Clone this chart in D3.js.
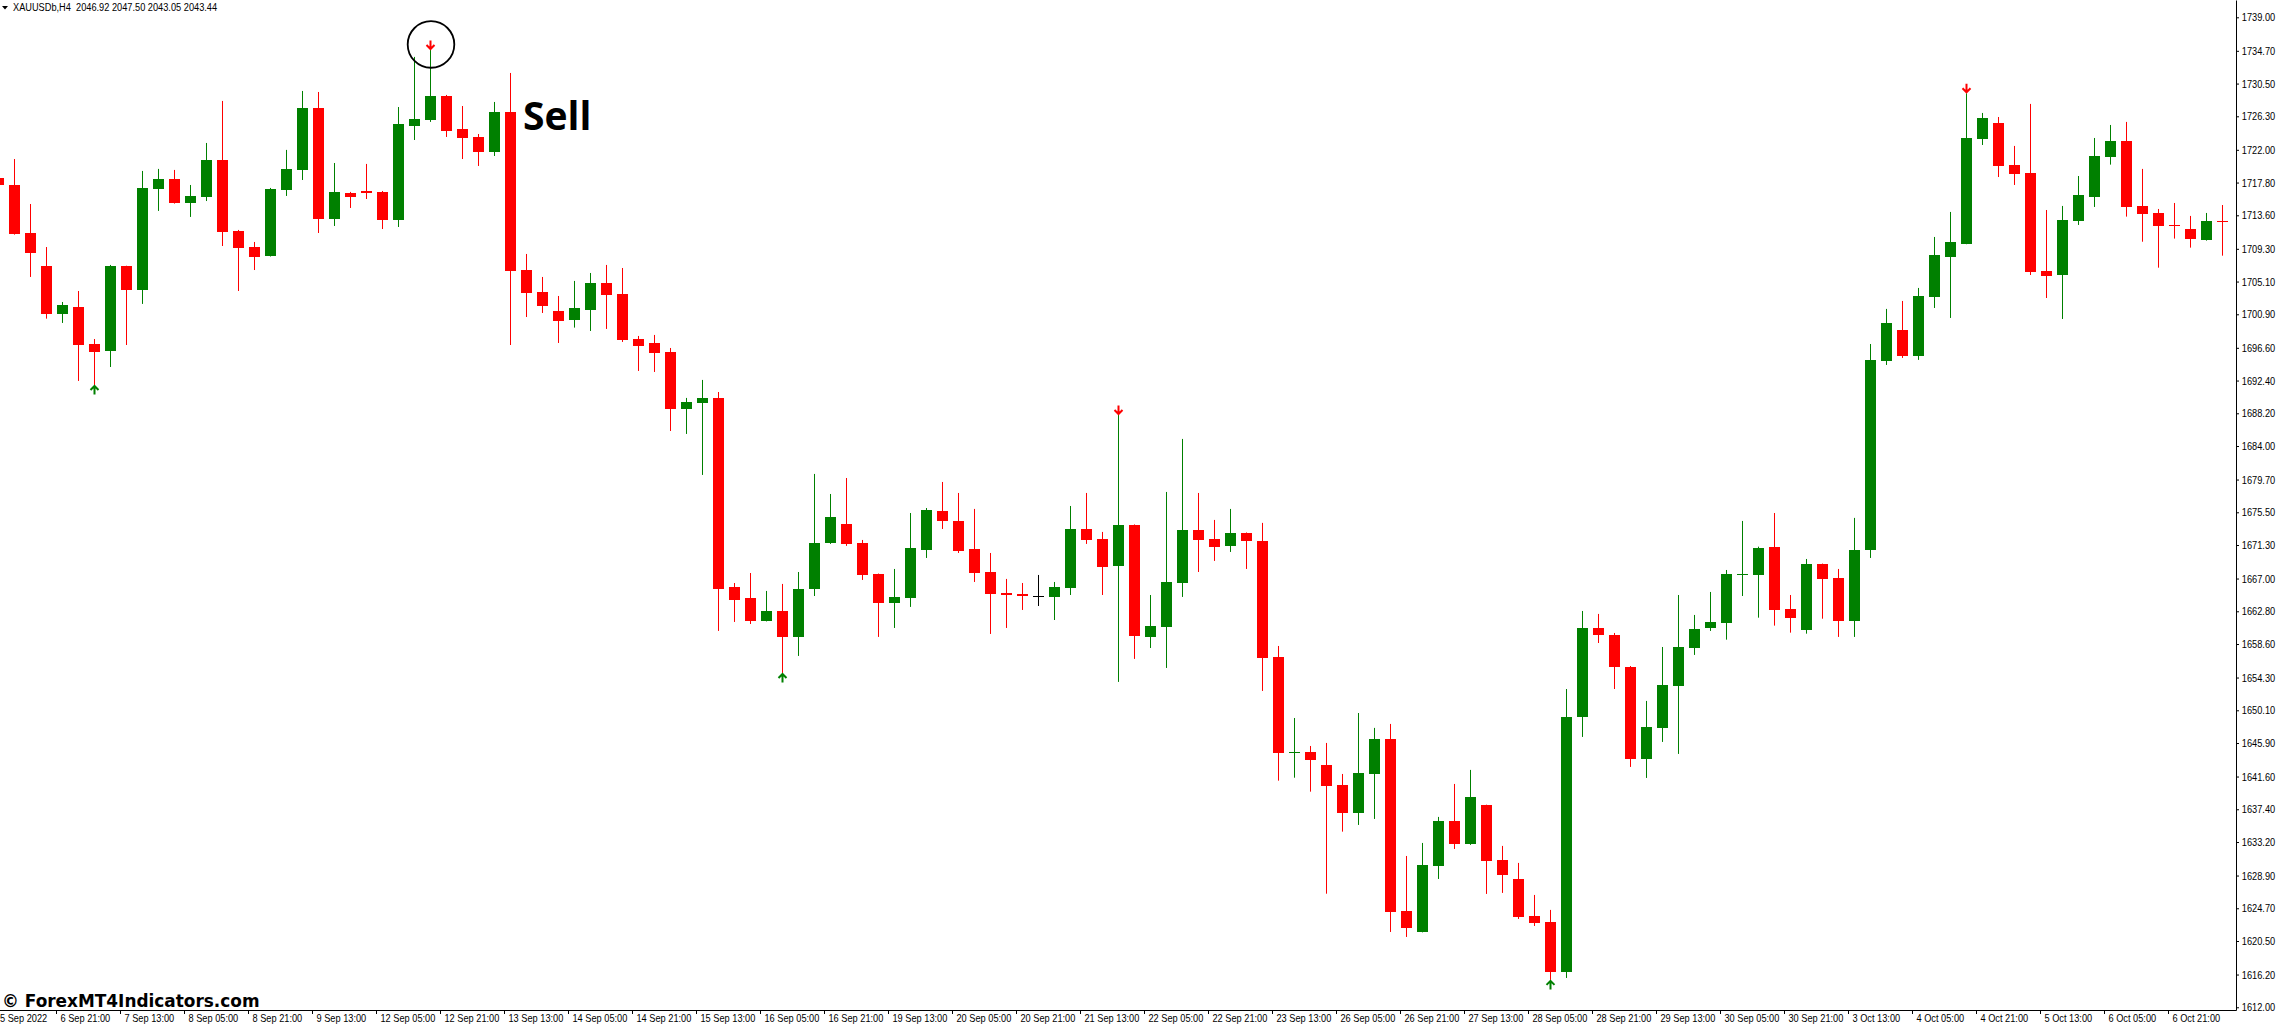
<!DOCTYPE html>
<html lang="en">
<head>
<meta charset="utf-8">
<title>XAUUSDb H4</title>
<script src="https://d3js.org/d3.v7.min.js"></script>
<style>
    html, body { margin: 0; padding: 0; background: #ffffff; overflow: hidden; }
    svg { display: block; }
</style>
</head>
<body>
<div id="chart"></div>

<!-- Data -->
<script>
    // H4 bars, bar 0 is the half-hidden candle at the left edge
    var open = [
        1718.42, 1717.49, 1711.33, 1707.10, 1700.94, 1701.84, 1697.09, 1696.20, 1707.10, 1704.03,
        1716.98, 1718.26, 1715.18, 1715.96, 1720.70, 1711.59, 1709.53, 1708.38, 1716.85, 1719.42,
        1727.37, 1713.13, 1716.47, 1716.72, 1716.60, 1713.01, 1725.06, 1725.83, 1728.91, 1724.67,
        1723.65, 1721.76, 1726.85, 1706.58, 1703.76, 1701.33, 1700.21, 1701.50, 1704.92, 1703.50,
        1697.73, 1697.22, 1696.07, 1688.75, 1689.53, 1690.17, 1665.92, 1664.51, 1661.56, 1662.84,
        1659.51, 1665.67, 1671.57, 1674.00, 1671.57, 1667.59, 1663.87, 1664.51, 1670.66, 1675.67,
        1674.39, 1670.79, 1667.84, 1665.16, 1665.02, 1664.72, 1664.64, 1665.80, 1673.36, 1672.08,
        1668.62, 1673.87, 1659.51, 1660.79, 1666.43, 1673.23, 1672.08, 1671.19, 1672.85, 1671.82,
        1656.94, 1644.67, 1644.76, 1643.09, 1640.52, 1636.93, 1641.93, 1646.42, 1624.36, 1621.66,
        1630.13, 1635.91, 1632.96, 1637.95, 1630.90, 1628.46, 1623.72, 1622.94, 1616.53, 1649.24,
        1660.66, 1659.77, 1655.66, 1643.85, 1647.84, 1653.22, 1658.09, 1660.66, 1661.34, 1667.46,
        1667.50, 1671.05, 1663.10, 1660.45, 1668.87, 1667.07, 1661.56, 1670.66, 1694.91, 1698.89,
        1695.56, 1703.12, 1708.26, 1709.93, 1723.39, 1725.45, 1720.06, 1719.03, 1706.46, 1705.94,
        1712.87, 1715.96, 1721.12, 1723.14, 1714.80, 1713.90, 1712.36, 1711.84, 1710.48, 1712.91
    ];
    var high = [
        1718.64, 1720.82, 1715.05, 1709.53, 1702.48, 1703.89, 1697.73, 1707.23, 1707.13, 1719.29,
        1719.55, 1719.42, 1717.49, 1722.88, 1728.27, 1711.72, 1710.18, 1717.11, 1721.99, 1729.55,
        1729.42, 1720.31, 1716.60, 1720.19, 1716.72, 1727.49, 1733.92, 1734.81, 1729.04, 1727.62,
        1724.03, 1728.14, 1731.86, 1708.64, 1705.69, 1703.25, 1705.18, 1706.20, 1707.23, 1706.84,
        1698.12, 1698.25, 1696.58, 1690.17, 1692.48, 1690.93, 1666.43, 1667.71, 1665.41, 1666.31,
        1667.84, 1680.42, 1677.85, 1679.90, 1671.95, 1667.64, 1668.23, 1675.41, 1676.05, 1679.39,
        1677.98, 1675.93, 1670.28, 1666.95, 1666.43, 1667.46, 1666.56, 1676.31, 1677.98, 1672.98,
        1687.98, 1673.94, 1664.89, 1678.11, 1684.91, 1677.98, 1674.52, 1675.93, 1672.91, 1674.14,
        1658.35, 1649.11, 1645.52, 1645.91, 1641.93, 1649.75, 1647.84, 1648.35, 1631.41, 1633.08,
        1636.42, 1640.65, 1642.45, 1637.99, 1632.70, 1630.52, 1626.41, 1624.49, 1652.83, 1662.84,
        1662.46, 1660.02, 1655.78, 1651.30, 1658.22, 1664.89, 1662.33, 1665.28, 1668.10, 1674.39,
        1671.09, 1675.41, 1664.89, 1669.51, 1668.92, 1668.23, 1674.78, 1697.09, 1701.59, 1702.61,
        1704.28, 1710.82, 1714.03, 1729.25, 1726.73, 1726.21, 1722.50, 1727.89, 1714.28, 1714.80,
        1718.64, 1723.52, 1725.19, 1725.58, 1719.55, 1714.41, 1715.18, 1713.52, 1713.90, 1714.92
    ];
    var low = [
        1717.36, 1711.12, 1705.69, 1700.34, 1699.79, 1692.35, 1691.83, 1694.14, 1696.96, 1702.23,
        1714.16, 1715.10, 1713.39, 1715.43, 1709.66, 1703.89, 1706.58, 1708.31, 1716.08, 1718.13,
        1711.33, 1712.23, 1714.54, 1715.69, 1711.84, 1712.10, 1723.26, 1725.58, 1723.65, 1720.82,
        1719.93, 1721.21, 1696.96, 1700.55, 1701.07, 1697.22, 1699.19, 1698.76, 1699.02, 1697.35,
        1693.63, 1693.50, 1685.93, 1685.55, 1680.29, 1660.28, 1661.43, 1661.17, 1661.50, 1654.89,
        1657.07, 1664.76, 1671.44, 1671.19, 1666.82, 1659.51, 1660.66, 1663.36, 1669.64, 1673.36,
        1670.28, 1666.56, 1659.89, 1660.66, 1662.97, 1663.48, 1661.68, 1664.89, 1671.44, 1664.89,
        1653.74, 1656.69, 1658.09, 1655.53, 1664.64, 1667.84, 1669.26, 1670.41, 1668.23, 1652.58,
        1641.07, 1641.45, 1639.66, 1626.57, 1634.53, 1635.39, 1636.16, 1621.66, 1621.02, 1621.61,
        1628.46, 1632.31, 1632.83, 1626.54, 1626.67, 1623.33, 1622.43, 1615.51, 1615.76, 1646.68,
        1658.73, 1652.83, 1642.83, 1641.42, 1646.04, 1644.50, 1657.20, 1660.28, 1659.16, 1664.76,
        1661.98, 1660.96, 1660.06, 1659.93, 1661.85, 1659.51, 1659.51, 1669.64, 1694.40, 1695.30,
        1695.05, 1701.71, 1700.43, 1709.89, 1722.62, 1718.51, 1717.49, 1705.94, 1702.99, 1700.30,
        1712.36, 1714.67, 1720.10, 1713.43, 1710.21, 1706.88, 1710.61, 1709.45, 1710.35, 1708.42
    ];
    var close = [
        1717.49, 1711.24, 1708.81, 1700.94, 1702.10, 1696.96, 1696.07, 1707.10, 1704.03, 1717.11,
        1718.26, 1715.18, 1716.08, 1720.70, 1711.46, 1709.41, 1708.26, 1716.98, 1719.55, 1727.37,
        1713.13, 1716.60, 1715.99, 1716.51, 1713.01, 1725.32, 1725.96, 1728.91, 1724.45, 1723.56,
        1721.76, 1726.85, 1706.49, 1703.67, 1702.01, 1700.08, 1701.71, 1704.92, 1703.42, 1697.60,
        1696.88, 1695.98, 1688.75, 1689.66, 1690.17, 1665.67, 1664.25, 1661.56, 1662.84, 1659.51,
        1665.67, 1671.57, 1674.90, 1671.44, 1667.46, 1663.87, 1664.64, 1670.92, 1675.80, 1674.39,
        1670.54, 1667.71, 1665.02, 1664.89, 1664.76, 1664.72, 1665.92, 1673.36, 1671.95, 1668.49,
        1673.87, 1659.64, 1660.92, 1666.56, 1673.23, 1671.95, 1671.05, 1672.85, 1671.82, 1656.82,
        1644.67, 1644.76, 1643.72, 1640.39, 1636.93, 1642.06, 1646.42, 1624.23, 1622.18, 1630.26,
        1635.91, 1632.96, 1638.98, 1630.77, 1628.97, 1623.59, 1622.81, 1616.53, 1649.24, 1660.66,
        1659.77, 1655.66, 1643.85, 1647.96, 1653.35, 1658.22, 1660.53, 1661.43, 1667.59, 1667.55,
        1670.92, 1663.01, 1661.98, 1668.87, 1666.99, 1661.56, 1670.66, 1695.05, 1699.79, 1695.56,
        1703.25, 1708.51, 1710.18, 1723.52, 1726.09, 1719.93, 1718.90, 1706.33, 1705.82, 1713.01,
        1716.21, 1721.21, 1723.14, 1714.71, 1713.81, 1712.27, 1712.23, 1710.61, 1712.87, 1712.78
    ];

    // indicator arrows (bar numbers)
    var sellSignals = [27, 70, 123];
    var buySignals = [6, 49, 97];

    // price scale labels
    var priceTicks = [
        1739.00, 1734.70, 1730.50, 1726.30, 1722.00, 1717.80, 1713.60, 1709.30, 1705.10, 1700.90,
        1696.60, 1692.40, 1688.20, 1684.00, 1679.70, 1675.50, 1671.30, 1667.00, 1662.80, 1658.60,
        1654.30, 1650.10, 1645.90, 1641.60, 1637.40, 1633.20, 1628.90, 1624.70, 1620.50, 1616.20,
        1612.00
    ];

    // time scale labels, one every 4 bars starting at bar 0
    var timeLabels = [
        "5 Sep 2022", "6 Sep 21:00", "7 Sep 13:00", "8 Sep 05:00", "8 Sep 21:00", "9 Sep 13:00",
        "12 Sep 05:00", "12 Sep 21:00", "13 Sep 13:00", "14 Sep 05:00", "14 Sep 21:00", "15 Sep 13:00",
        "16 Sep 05:00", "16 Sep 21:00", "19 Sep 13:00", "20 Sep 05:00", "20 Sep 21:00", "21 Sep 13:00",
        "22 Sep 05:00", "22 Sep 21:00", "23 Sep 13:00", "26 Sep 05:00", "26 Sep 21:00", "27 Sep 13:00",
        "28 Sep 05:00", "28 Sep 21:00", "29 Sep 13:00", "30 Sep 05:00", "30 Sep 21:00", "3 Oct 13:00",
        "4 Oct 05:00", "4 Oct 21:00", "5 Oct 13:00", "6 Oct 05:00", "6 Oct 21:00"
    ];
    var labelStep = 4;

    var headerText = "XAUUSDb,H4  2046.92 2047.50 2043.05 2043.44";
    var watermark = "\u00A9 ForexMT4Indicators.com";
    var callout = "Sell";
    var calloutPrice = 1724.54;
</script>

<!-- Chart -->
<script>
    var width = 2277, height = 1024;
    var plotRight = 2236, plotBottom = 1010;
    var bodyWidth = 11;
    var squeeze = 0.84;   // terminal font is narrower than Liberation Sans

    var bull = "#008000", bear = "#ff0000", doji = "#000000";

    var svg = d3.select("#chart")
        .append("svg")
        .attr("width", width)
        .attr("height", height)
        .style("font-family", "'Liberation Sans', Arial, sans-serif");

    // bar number -> pixel, 16px per bar
    var x = d3.scaleLinear()
        .domain([0, open.length - 1])
        .range([-1.5, 2222.5]);

    var y = d3.scaleLinear()
        .domain([1611.65, 1741.22])
        .range([plotBottom, 0]);

    var bars = open.map(function (o, i) {
        return { i: i, o: o, h: high[i], l: low[i], c: close[i] };
    });

    function colour(d) {
        if (d.c > d.o) return bull;
        if (d.c < d.o) return bear;
        return doji;
    }

    var plot = svg.append("g").attr("class", "candles");

    // wicks
    plot.selectAll("line.wick")
        .data(bars)
        .enter()
        .append("line")
        .attr("class", "wick")
        .attr("x1", function (d) { return x(d.i); })
        .attr("x2", function (d) { return x(d.i); })
        .attr("y1", function (d) { return y(d.h); })
        .attr("y2", function (d) { return y(d.l); })
        .attr("stroke", colour)
        .attr("stroke-width", 1);

    // bodies
    plot.selectAll("rect.body")
        .data(bars)
        .enter()
        .append("rect")
        .attr("class", "body")
        .attr("x", function (d) { return x(d.i) - bodyWidth / 2; })
        .attr("y", function (d) { return y(Math.max(d.o, d.c)); })
        .attr("width", bodyWidth)
        .attr("height", function (d) {
            return Math.max(1, y(Math.min(d.o, d.c)) - y(Math.max(d.o, d.c)));
        })
        .attr("fill", colour)
        .attr("shape-rendering", "crispEdges");

    // signal arrows, tip sits on the high (sell) or low (buy)
    var arrowPath = "M0,-9V-0.5M-4,-4.5L0,-0.5L4,-4.5";

    svg.selectAll("path.sell")
        .data(sellSignals)
        .enter()
        .append("path")
        .attr("class", "sell")
        .attr("d", arrowPath)
        .attr("transform", function (i) { return "translate(" + x(i) + "," + (y(high[i]) - 0.5) + ")"; })
        .attr("fill", "none")
        .attr("stroke", bear)
        .attr("stroke-width", 2);

    svg.selectAll("path.buy")
        .data(buySignals)
        .enter()
        .append("path")
        .attr("class", "buy")
        .attr("d", arrowPath)
        .attr("transform", function (i) { return "translate(" + x(i) + "," + (y(low[i]) + 0.5) + ") rotate(180)"; })
        .attr("fill", "none")
        .attr("stroke", bull)
        .attr("stroke-width", 2);

    // circled first sell signal + label
    var first = sellSignals[0];
    svg.append("circle")
        .attr("cx", x(first) + 0.5)
        .attr("cy", y(high[first]) - 5.5)
        .attr("r", 23.3)
        .attr("fill", "none")
        .attr("stroke", "#000")
        .attr("stroke-width", 1.8);

    svg.append("text")
        .attr("x", x(first + 6) - 3.5)
        .attr("y", y(calloutPrice))
        .style("font-family", "'Open Sans', 'Liberation Sans', sans-serif")
        .style("font-weight", 700)
        .style("font-size", "39px")
        .attr("fill", "#000")
        .text(callout);

    // price axis on the right
    var yAxis = d3.axisRight(y)
        .tickValues(priceTicks)
        .tickFormat(d3.format(".2f"))
        .tickSize(3)
        .tickSizeOuter(0);

    var gy = svg.append("g")
        .attr("transform", "translate(" + plotRight + ",0)")
        .call(yAxis);
    gy.select(".domain").attr("stroke", "#000");
    gy.selectAll(".tick line").attr("stroke", "#000");
    gy.selectAll(".tick text")
        .attr("x", 5.8 / squeeze)
        .attr("transform", "scale(" + squeeze + ",1)")
        .attr("fill", "#000")
        .style("font-family", "'Liberation Sans', Arial, sans-serif")
        .style("font-size", "11px");

    // time axis along the bottom, tick sits at the bar's left edge
    var tickBars = timeLabels.map(function (t, j) { return j * labelStep; });
    var xAxis = d3.axisBottom(x)
        .tickValues(tickBars)
        .tickFormat(function (d) { return timeLabels[d / labelStep]; })
        .tickSize(4)
        .tickSizeOuter(0);

    var gx = svg.append("g")
        .attr("transform", "translate(-6.5," + plotBottom + ")")
        .call(xAxis);
    gx.select(".domain").remove();
    gx.selectAll(".tick line").attr("stroke", "#000");
    gx.selectAll(".tick text")
        .attr("text-anchor", "start")
        .attr("x", function (d) { return (d === 0 ? 7.5 : 4) / squeeze; })  // keep the first date on screen
        .attr("y", 12)
        .attr("dy", null)
        .attr("transform", "scale(" + squeeze + ",1)")
        .attr("fill", "#000")
        .style("font-family", "'Liberation Sans', Arial, sans-serif")
        .style("font-size", "11px");

    svg.append("line")
        .attr("x1", 0)
        .attr("x2", plotRight + 0.5)
        .attr("y1", plotBottom + 0.5)
        .attr("y2", plotBottom + 0.5)
        .attr("stroke", "#000");

    // header line top-left
    svg.append("path")
        .attr("d", "M2,6H8L5,9.5Z")
        .attr("fill", "#000");
    svg.append("text")
        .attr("x", 13 / squeeze)
        .attr("y", 11.5)
        .attr("transform", "scale(" + squeeze + ",1)")
        .style("font-size", "11px")
        .style("white-space", "pre")
        .attr("fill", "#000")
        .text(headerText);

    // site watermark bottom-left
    svg.append("text")
        .attr("x", 2 / 0.94)
        .attr("y", 1007)
        .attr("transform", "scale(0.94,1)")
        .style("font-family", "'DejaVu Sans', sans-serif")
        .style("font-weight", 700)
        .style("font-size", "18px")
        .attr("fill", "#000")
        .text(watermark);
</script>
</body>
</html>
